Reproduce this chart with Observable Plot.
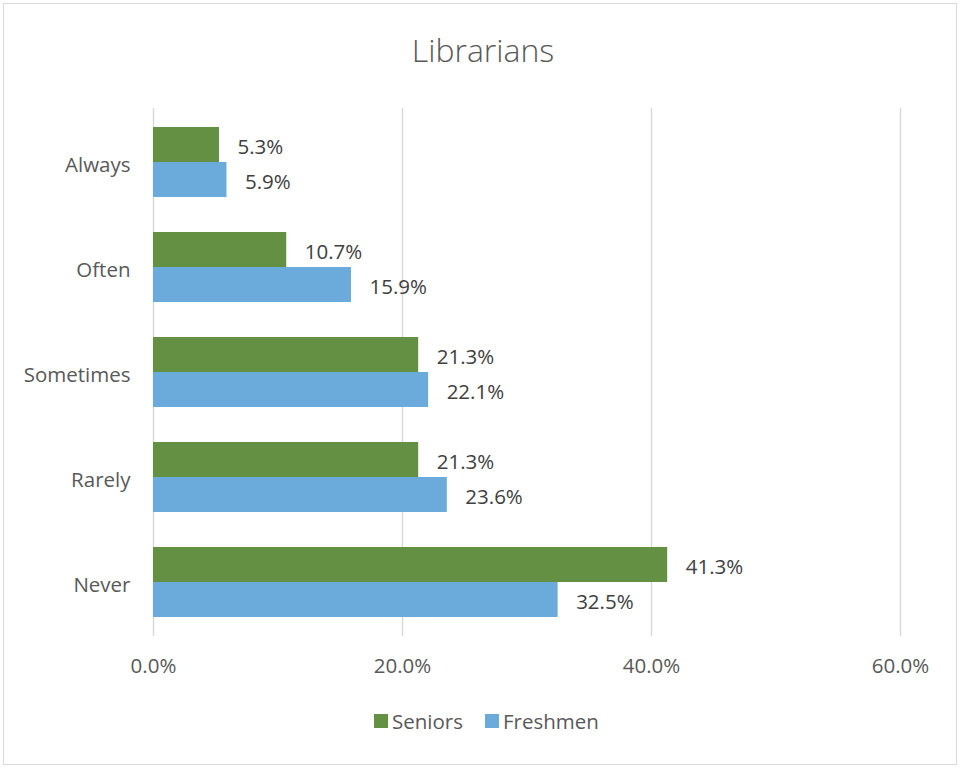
<!DOCTYPE html>
<html>
<head>
<meta charset="utf-8">
<script src="https://cdn.jsdelivr.net/npm/d3@7"></script>
<script src="https://cdn.jsdelivr.net/npm/@observablehq/plot@0.6"></script>
<style>
  html, body { margin: 0; padding: 0; background: #fff; }
  #wrap { position: relative; width: 961px; height: 769px; font-family: "Open Sans", sans-serif; }
  #border { position: absolute; left: 3px; top: 3px; width: 952px; height: 760px; border: 1px solid #d9d9d9; }
  #title { position: absolute; left: 0; top: 28px; width: 966px; text-align: center; font-size: 32px; font-weight: 300; color: #595959; }
  #chart { position: absolute; left: 0; top: 0; }
  #legend { position: absolute; left: 374px; top: 707px; display: flex; align-items: center; font-size: 20.5px; color: #595959; }
  .sw { width: 14px; height: 14px; display: inline-block; margin-right: 4px; }
  .item { display: flex; align-items: center; margin-right: 22px; }
</style>
</head>
<body>
<div id="wrap">
  <div id="border"></div>
  <div id="title">Librarians</div>
  <div id="chart"></div>
  <div id="legend"></div>
</div>
<script>
const categories = ["Always", "Often", "Sometimes", "Rarely", "Never"];
const series = ["Seniors", "Freshmen"];
const seniors = [5.3, 10.7, 21.3, 21.3, 41.3];
const freshmen = [5.9, 15.9, 22.1, 23.6, 32.5];
const xTicks = [0, 20, 40, 60];
const colors = ["#649043", "#6AABDC"];

const seniorData = categories.map((c, i) => ({category: c, series: "Seniors", value: seniors[i]}));
const freshData = categories.map((c, i) => ({category: c, series: "Freshmen", value: freshmen[i]}));

const W = 961, H = 769, mt = 108, mb = 133, ml = 153, mr = 61;
const plotH = H - mt - mb;
const pInner = 1 / 3;
const pOuter = 0.181;
const step = plotH / (categories.length - pInner + 2 * pOuter);
const bw = step * (1 - pInner);
const half = bw / 2;
const fmt = d => d.toFixed(1) + "%";

const chart = Plot.plot({
  width: W, height: H,
  marginTop: mt, marginBottom: mb, marginLeft: ml, marginRight: mr,
  style: {fontFamily: "'Open Sans', sans-serif", fontSize: "20.5px", color: "#595959", background: "transparent"},
  x: {domain: [0, 60], ticks: xTicks, tickFormat: fmt, tickSize: 0, tickPadding: 22, label: null},
  y: {domain: categories, paddingInner: pInner, paddingOuter: pOuter, round: false, tickSize: 0, tickPadding: 23, label: null},
  marks: [
    Plot.ruleX(xTicks, {stroke: "#d9d9d9", strokeWidth: 1.5}),
    Plot.barX(seniorData, {x: "value", y: "category", fill: colors[0], insetBottom: half, insetTop: 0}),
    Plot.barX(freshData, {x: "value", y: "category", fill: colors[1], insetTop: half, insetBottom: 0}),
    Plot.text(seniorData, {x: "value", y: "category", dy: -half / 2 + 2, dx: 18, textAnchor: "start", text: d => fmt(d.value), fill: "#404040", fontSize: 20.5}),
    Plot.text(freshData, {x: "value", y: "category", dy: half / 2 + 2, dx: 18, textAnchor: "start", text: d => fmt(d.value), fill: "#404040", fontSize: 20.5})
  ]
});
document.getElementById("chart").appendChild(chart);
chart.querySelectorAll("g[aria-label='y-axis tick label'] text").forEach(t => t.setAttribute("dy", (parseFloat(t.getAttribute("dy")) || 0) + 3));

const legend = document.getElementById("legend");
series.forEach((s, i) => {
  const item = document.createElement("div");
  item.className = "item";
  item.innerHTML = `<span class="sw" style="background:${colors[i]}"></span><span>${s}</span>`;
  legend.appendChild(item);
});
</script>
</body>
</html>
